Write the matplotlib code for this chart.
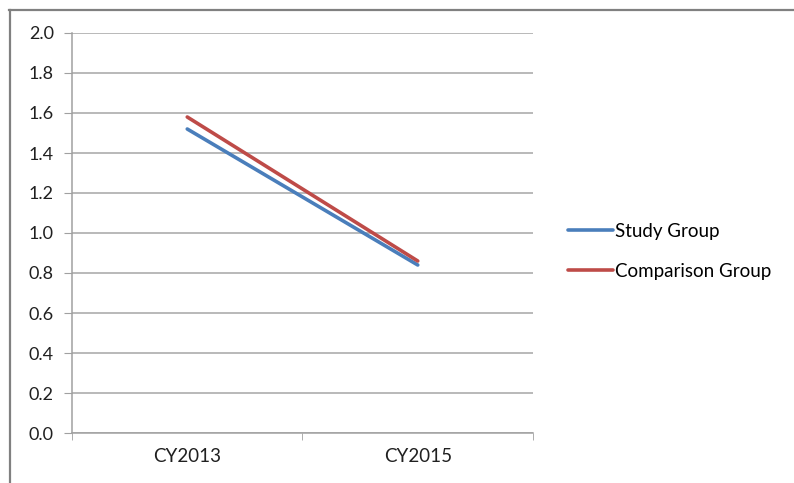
import matplotlib
matplotlib.use("Agg")
import matplotlib.pyplot as plt
from matplotlib.lines import Line2D

categories = ["CY2013", "CY2015"]
study_group = [1.52, 0.84]
comparison_group = [1.58, 0.86]
y_ticks = [0.0, 0.2, 0.4, 0.6, 0.8, 1.0, 1.2, 1.4, 1.6, 1.8, 2.0]

plt.rcParams['font.family'] = ['Lato', 'DejaVu Sans']

W, H = 794, 483
fig = plt.figure(figsize=(W / 100, H / 100), dpi=100)
fig.patch.set_facecolor("white")

# plot area in pixels: x 72..533, y 33..433
left, right, top, bottom = 72, 533, 33, 433
ax = fig.add_axes([left / W, 1 - bottom / H, (right - left) / W, (bottom - top) / H])

x = list(range(len(categories)))
ax.plot(x, study_group, color="#4a7ebb", lw=2.6, label="Study Group", solid_capstyle="round")
ax.plot(x, comparison_group, color="#be4b48", lw=2.6, label="Comparison Group", solid_capstyle="round")

fs = 13.5
ax.set_xlim(-0.5, len(categories) - 0.5)
ax.set_ylim(0, 2.0)
ax.set_yticks(y_ticks)
ax.set_yticklabels([f"{v:.1f}" for v in y_ticks], fontsize=fs - 0.5, color="#202020")
ax.set_xticks(x)
ax.set_xticklabels(categories, fontsize=fs, color="#202020")
ax.set_xticks([-0.5, 0.5, 1.5], minor=True)
ax.tick_params(axis="x", which="major", length=0, pad=11)
ax.tick_params(axis="x", which="minor", length=5, color="#a0a0a0", direction="out")
ax.tick_params(axis="y", length=6, color="#a0a0a0", direction="out", pad=7)

ax.yaxis.grid(True, color="#a6a6a6", lw=1.1)
ax.set_axisbelow(True)
for s in ["top", "right"]:
    ax.spines[s].set_visible(False)
for s in ["left", "bottom"]:
    ax.spines[s].set_color("#a0a0a0")
    ax.spines[s].set_linewidth(1.1)

leg = fig.legend(loc="upper left", bbox_to_anchor=(560 / W, 1 - 215 / H),
                 frameon=False, fontsize=fs, handlelength=2.4, handletextpad=0.12,
                 labelspacing=1.25, borderaxespad=0)

# outer chart frame (cropped): left and top borders
fig.add_artist(Line2D([10 / W, 10 / W], [0, 1 - 10 / H], transform=fig.transFigure,
                      color="#808080", lw=1.6))
fig.add_artist(Line2D([9 / W, 1], [1 - 10 / H, 1 - 10 / H], transform=fig.transFigure,
                      color="#808080", lw=1.6))

fig.savefig("out.png", dpi=100)
